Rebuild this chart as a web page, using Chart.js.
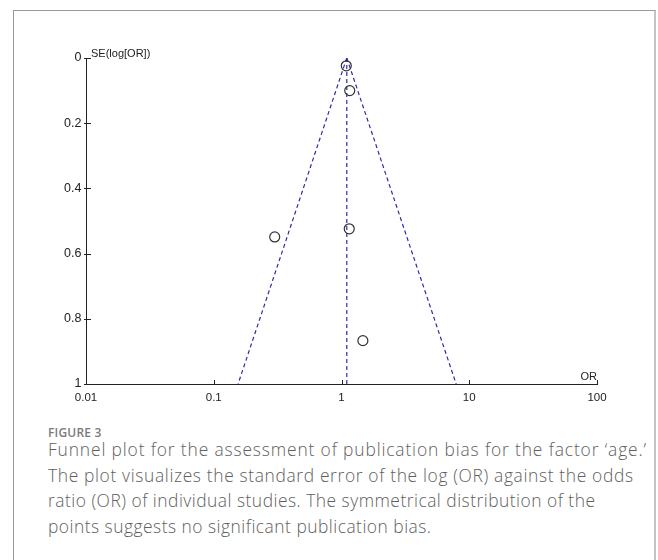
<!DOCTYPE html>
<html>
<head>
<meta charset="utf-8">
<script src="https://cdn.jsdelivr.net/npm/chart.js@4.4.0/dist/chart.umd.min.js"></script>
<style>
  html, body { margin: 0; padding: 0; background: #fff; width: 658px; height: 560px; overflow: hidden; }
  #frame { position: absolute; left: 13px; top: 10px; width: 640px; height: 600px;
           border-left: 1px solid #9a9a9a; border-top: 1px solid #9a9a9a; border-right: 2px solid #c4c4c4; }
  #wrap { position: absolute; left: 0; top: 0; width: 658px; height: 410px; }
  #figlabel { position: absolute; left: 48px; top: 424px; font-family: "Open Sans", sans-serif;
              font-weight: 600; font-size: 12px; color: #7a7a7a; letter-spacing: 0.2px; }
  #caption { position: absolute; left: 48px; top: 437px; width: 610px; font-family: "Open Sans", sans-serif;
             font-weight: 300; font-size: 17.4px; line-height: 25.5px; color: #606060; white-space: nowrap; }
  #caption span { display: inline-block; }
</style>
</head>
<body>
<div id="frame"></div>
<div id="wrap"><canvas id="myChart" width="658" height="410"></canvas></div>
<div id="figlabel">FIGURE 3</div>
<div id="caption"><span>Funnel plot for the assessment of publication bias for the factor ‘age.’</span><br><span>The plot visualizes the standard error of the log (OR) against the odds</span><br><span>ratio (OR) of individual studies. The symmetrical distribution of the</span><br><span>points suggests no significant publication bias.</span></div>
<script>
// study points
const studyOR = [1.09, 1.16, 0.30, 1.15, 1.47];
const studySE = [0.024, 0.10, 0.549, 0.524, 0.867];

// funnel (pooled OR and 95% limits), top and bottom ends
const funnelSE = [0, 1];
const funnelMid = [1.1, 1.1];
const funnelLow = [1.1, 0.155];
const funnelHigh = [1.1, 7.9];

const xTicks = [0.01, 0.1, 1, 10, 100];
const yTicks = [0, 0.2, 0.4, 0.6, 0.8, 1];

// caption line widths in the figure (px), to fit the text to
const captionWidths = [598, 585, 547, 383];

const ctx = document.getElementById("myChart");
const fontFam = "Liberation Sans, Arial, sans-serif";

const toPoints = (xs, ys) => xs.map((x, i) => ({ x: x, y: ys[i] }));

const funnelLine = (xs) => ({
  type: "line",
  data: toPoints(xs, funnelSE),
  borderColor: "#2c2ca8",
  borderWidth: 1.2,
  borderDash: [4, 3],
  pointRadius: 0,
  fill: false,
  order: 1,
});

// tick marks and axis titles
const axisExtras = {
  id: "axisExtras",
  afterDraw(chart) {
    const c = chart.ctx;
    const xs = chart.scales.x, ys = chart.scales.y;
    const a = chart.chartArea;
    c.save();
    c.strokeStyle = "#222";
    c.lineWidth = 1;
    c.beginPath();
    xTicks.forEach((v) => {
      const px = Math.round(xs.getPixelForValue(v)) + 0.5;
      c.moveTo(px, a.bottom + 1);
      c.lineTo(px, a.bottom - 4);
    });
    yTicks.forEach((v) => {
      const py = Math.round(ys.getPixelForValue(v)) + 0.5;
      c.moveTo(a.left - 2, py);
      c.lineTo(a.left + 5, py);
    });
    c.stroke();
    c.fillStyle = "#222";
    c.font = "11px " + fontFam;
    c.textBaseline = "alphabetic";
    c.textAlign = "left";
    c.fillText("SE(log[OR])", a.left + 5, a.top - 1);
    c.textAlign = "right";
    c.fillText("OR", a.right, a.bottom - 4);
    c.restore();
  },
};

new Chart(ctx, {
  type: "scatter",
  data: {
    datasets: [
      {
        data: toPoints(studyOR, studySE),
        pointStyle: "circle",
        pointRadius: 5,
        borderColor: "#333",
        borderWidth: 1.2,
        backgroundColor: "rgba(0,0,0,0)",
        order: 0,
      },
      funnelLine(funnelMid),
      funnelLine(funnelLow),
      funnelLine(funnelHigh),
    ],
  },
  options: {
    responsive: false,
    animation: false,
    layout: { padding: { left: 0, top: 58, right: 61, bottom: 0 } },
    plugins: { legend: { display: false }, tooltip: { enabled: false } },
    scales: {
      x: {
        type: "logarithmic",
        min: 0.01,
        max: 100,
        afterBuildTicks: (scale) => { scale.ticks = xTicks.map((v) => ({ value: v })); },
        afterFit: (scale) => { scale.height = 26; },
        grid: { display: false, drawTicks: false, tickLength: 0 },
        border: { display: true, color: "#222", width: 1 },
        ticks: { font: { family: fontFam, size: 11.5 }, color: "#222", padding: 7, maxRotation: 0, autoSkip: false,
                 callback: (v) => String(v) },
      },
      y: {
        type: "linear",
        reverse: true,
        min: 0,
        max: 1,
        afterBuildTicks: (scale) => { scale.ticks = yTicks.map((v) => ({ value: v })); },
        afterFit: (scale) => { scale.width = 86; },
        grid: { display: false, drawTicks: false, tickLength: 0 },
        border: { display: true, color: "#222", width: 1 },
        ticks: { font: { family: fontFam, size: 12.5 }, color: "#222", padding: 4.5, autoSkip: false,
                 callback: (v) => String(v) },
      },
    },
  },
  plugins: [axisExtras],
});

// stretch each caption line to its width in the figure
document.querySelectorAll("#caption span").forEach((line, i) => {
  const w = line.getBoundingClientRect().width;
  const n = line.textContent.length - 1;
  line.style.letterSpacing = ((captionWidths[i] - w) / n).toFixed(3) + "px";
});
</script>
</body>
</html>
